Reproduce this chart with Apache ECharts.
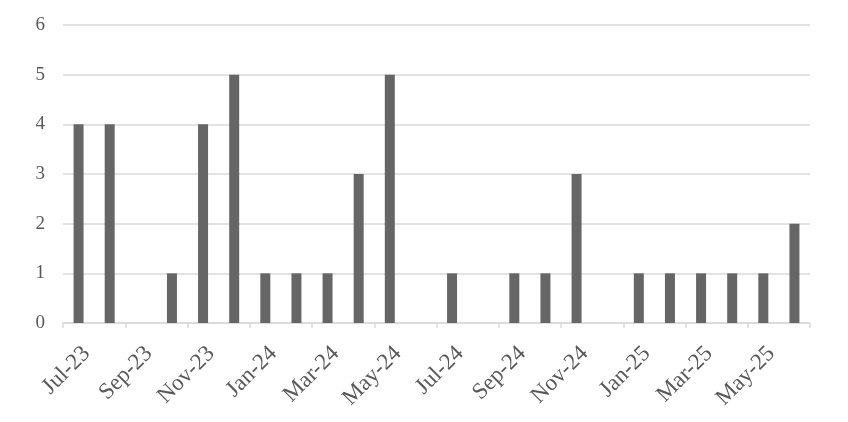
<!DOCTYPE html>
<html>
<head>
<meta charset="utf-8">
<script src="https://cdn.jsdelivr.net/npm/echarts@6/dist/echarts.min.js"></script>
<style>
html,body{margin:0;padding:0;background:#fff;}
#chart{width:848px;height:422px;}
</style>
</head>
<body>
<div id="chart"></div>
<script>
const categories = ['Jul-23','Aug-23','Sep-23','Oct-23','Nov-23','Dec-23','Jan-24','Feb-24','Mar-24','Apr-24','May-24','Jun-24','Jul-24','Aug-24','Sep-24','Oct-24','Nov-24','Dec-24','Jan-25','Feb-25','Mar-25','Apr-25','May-25','Jun-25'];
const values = [4,4,0,1,4,5,1,1,1,3,5,0,1,0,1,1,3,0,1,1,1,1,1,2];
const yTicks = [0,1,2,3,4,5,6];

const chart = echarts.init(document.getElementById('chart'), null, {renderer:'canvas'});
const font = 'Liberation Serif';
chart.setOption({
  animation:false,
  backgroundColor:'#ffffff',
  grid:{left:63,right:38,top:25,bottom:99,containLabel:false},
  xAxis:{
    type:'category',
    data:categories,
    boundaryGap:true,
    axisLine:{show:true,lineStyle:{color:'#d9d9d9',width:1.5}},
    axisTick:{show:true,interval:1,length:5,lineStyle:{color:'#d9d9d9',width:1.5}},
    axisLabel:{interval:1,rotate:45,margin:19,verticalAlign:'top',color:'#595959',fontFamily:font,fontSize:23}
  },
  yAxis:{
    type:'value',
    min:yTicks[0],max:yTicks[yTicks.length-1],interval:1,
    axisLine:{show:false},
    axisTick:{show:false},
    splitLine:{lineStyle:{color:'#d9d9d9',width:1.5}},
    axisLabel:{margin:18,color:'#595959',fontFamily:font,fontSize:19}
  },
  series:[{
    type:'bar',
    data:values,
    barWidth:10,
    itemStyle:{color:'#666666'}
  }]
});
</script>
</body>
</html>
